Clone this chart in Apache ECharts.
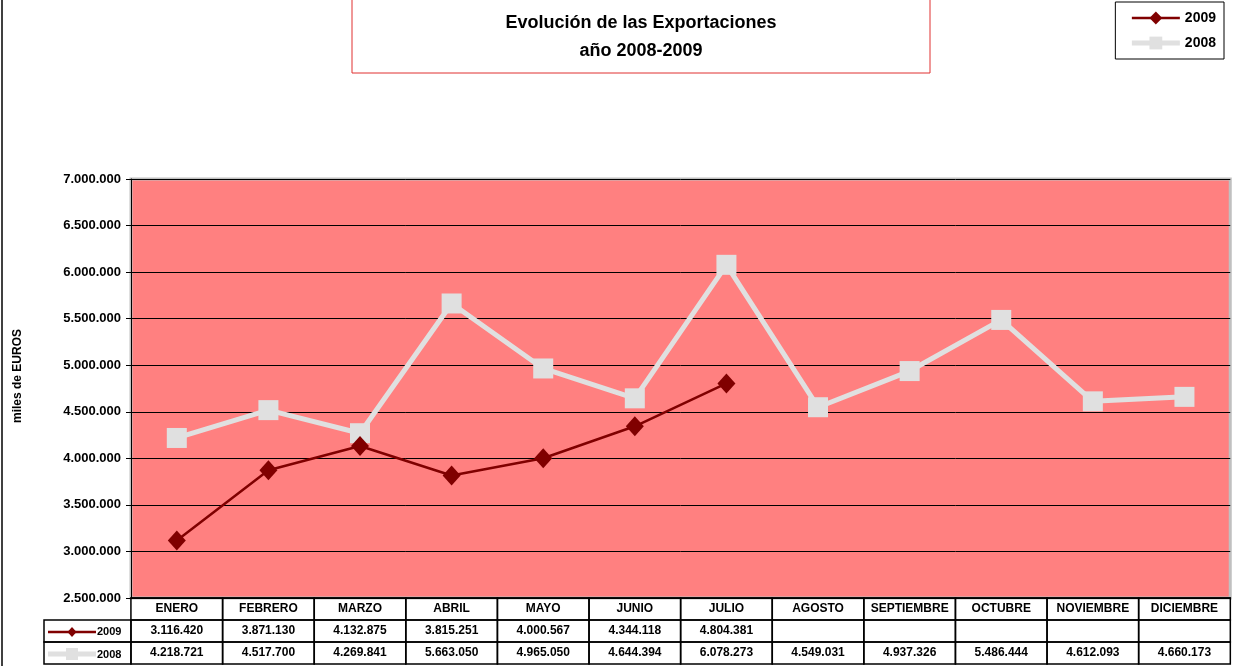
<!DOCTYPE html>
<html>
<head>
<meta charset="utf-8">
<script src="https://cdn.jsdelivr.net/npm/echarts@6/dist/echarts.min.js"></script>
<style>html,body{margin:0;padding:0;background:#fff}#c{width:1234px;height:666px}</style>
</head>
<body>
<div id="c"></div>
<script>
const months = ['ENERO','FEBRERO','MARZO','ABRIL','MAYO','JUNIO','JULIO','AGOSTO','SEPTIEMBRE','OCTUBRE','NOVIEMBRE','DICIEMBRE'];
const values2009 = [3116420, 3871130, 4132875, 3815251, 4000567, 4344118, 4804381, null, null, null, null, null];
const values2008 = [4218721, 4517700, 4269841, 5663050, 4965050, 4644394, 6078273, 4549031, 4937326, 5486444, 4612093, 4660173];
const yTicks = [2500000, 3000000, 3500000, 4000000, 4500000, 5000000, 5500000, 6000000, 6500000, 7000000];
const titleLines = ['Evolución de las Exportaciones', 'año 2008-2009'];
const yName = 'miles de EUROS';

const FONT = '"Liberation Sans", Arial, sans-serif';
const fmt = v => (v == null ? '\u00a0' : String(Math.round(v)).replace(/\B(?=(\d{3})+(?!\d))/g, '.'));

const gridL = 131, gridR = 2, gridT = 179, gridB = 68;
const cellW = (1234 - gridL - gridR) / 12;
const cell = {width: cellW, height: 22, lineHeight: 22, align: 'center', verticalAlign: 'middle',
  borderColor: '#000', borderWidth: 1.5, fontFamily: FONT, fontWeight: 'bold', fontSize: 12, color: '#000'};

const chart = echarts.init(document.getElementById('c'), null, {renderer: 'canvas'});
chart.setOption({
  animation: false,
  backgroundColor: '#fff',
  grid: {left: gridL, right: gridR, top: gridT, bottom: gridB, show: true, backgroundColor: '#FF8080', borderColor: '#C0C0C0', borderWidth: 3},
  xAxis: {
    type: 'category', data: months, boundaryGap: true,
    axisLine: {show: true, lineStyle: {color: '#000', width: 1.5}},
    axisTick: {show: false},
    axisLabel: {
      interval: 0, margin: 0, hideOverlap: false,
      formatter: (val, idx) => '{c|' + val + '}\n{c|' + fmt(values2009[idx]) + '}\n{c|' + fmt(values2008[idx]) + '}',
      rich: {c: cell}
    }
  },
  yAxis: {
    type: 'value', min: yTicks[0], max: yTicks[yTicks.length - 1], interval: 500000,
    axisLine: {show: true, lineStyle: {color: '#000', width: 1}},
    axisTick: {show: true, length: 5, lineStyle: {color: '#000'}},
    axisLabel: {margin: 10, formatter: v => fmt(v), fontFamily: FONT, fontWeight: 'bold', fontSize: 13, color: '#000'},
    splitLine: {show: true, lineStyle: {color: '#000', width: 1}}
  },
  legend: {
    right: 10, top: 2, orient: 'vertical', itemWidth: 48, itemHeight: 16, itemGap: 11,
    padding: [9, 8, 9, 14], borderColor: '#000', borderWidth: 1,
    textStyle: {fontFamily: FONT, fontWeight: 'bold', fontSize: 14, color: '#000'},
    data: [
      {name: '2009', lineStyle: {width: 2.5}},
      {name: '2008', lineStyle: {width: 5}}
    ]
  },
  series: [
    {name: '2008', type: 'line', data: values2008, symbol: 'rect', symbolSize: 20,
      lineStyle: {color: '#E0E0E0', width: 5}, itemStyle: {color: '#E0E0E0'}, z: 2},
    {name: '2009', type: 'line', data: values2009, symbol: 'diamond', symbolSize: [18, 20],
      lineStyle: {color: '#800000', width: 2.5}, itemStyle: {color: '#800000'}, z: 3}
  ],
  graphic: [
    {type: 'line', shape: {x1: 2, y1: 0, x2: 2, y2: 666}, style: {stroke: '#000', lineWidth: 1.5}},
    {type: 'rect', shape: {x: 352, y: -10, width: 578, height: 83}, style: {fill: 'none', stroke: '#E03030', lineWidth: 1}},
    {type: 'text', x: 641, y: 14, style: {text: titleLines[0], textAlign: 'center', font: 'bold 18px ' + FONT, fill: '#000'}},
    {type: 'text', x: 641, y: 42, style: {text: titleLines[1], textAlign: 'center', font: 'bold 18px ' + FONT, fill: '#000'}},
    {type: 'text', x: 18, y: 376, rotation: Math.PI / 2,
      style: {text: yName, align: 'center', verticalAlign: 'middle', fontFamily: FONT, fontWeight: 'bold', fontSize: 12, fill: '#000'}},
    {type: 'rect', shape: {x: 44, y: 620, width: gridL - 44, height: 22}, style: {fill: 'none', stroke: '#000', lineWidth: 1.5}},
    {type: 'rect', shape: {x: 44, y: 642, width: gridL - 44, height: 22}, style: {fill: 'none', stroke: '#000', lineWidth: 1.5}},
    {type: 'line', shape: {x1: 48, y1: 632, x2: 96, y2: 632}, style: {stroke: '#800000', lineWidth: 2.5}},
    {type: 'polygon', shape: {points: [[72, 627], [76.5, 632], [72, 637], [67.5, 632]]}, style: {fill: '#800000'}},
    {type: 'text', x: 97, y: 626, style: {text: '2009', font: 'bold 11px ' + FONT, fill: '#000'}},
    {type: 'line', shape: {x1: 48, y1: 654, x2: 96, y2: 654}, style: {stroke: '#E0E0E0', lineWidth: 5}},
    {type: 'rect', shape: {x: 66, y: 648, width: 12, height: 12}, style: {fill: '#E0E0E0'}},
    {type: 'text', x: 97, y: 649, style: {text: '2008', font: 'bold 11px ' + FONT, fill: '#000'}}
  ]
});
</script>
</body>
</html>
